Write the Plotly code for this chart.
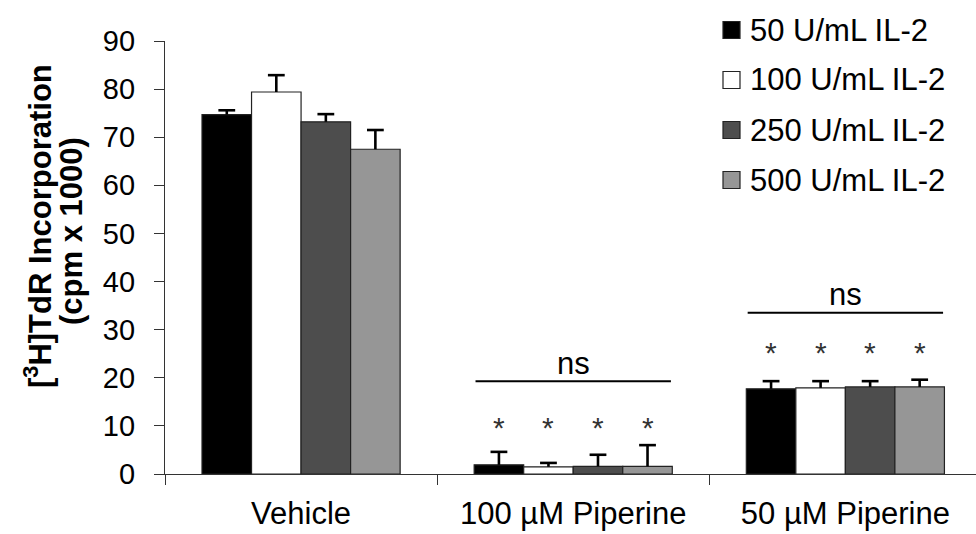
import plotly.graph_objects as go

# ---- data ----
categories = ["Vehicle", "100 µM Piperine", "50 µM Piperine"]
series_names = ["50 U/mL IL-2", "100 U/mL IL-2", "250 U/mL IL-2", "500 U/mL IL-2"]

il2_50 = [74.7, 1.9, 17.7]
il2_50_err = [0.9, 2.7, 1.6]
il2_100 = [79.4, 1.5, 17.9]
il2_100_err = [3.5, 0.8, 1.4]
il2_250 = [73.2, 1.6, 18.1]
il2_250_err = [1.6, 2.4, 1.2]
il2_500 = [67.5, 1.6, 18.1]
il2_500_err = [4.0, 4.4, 1.5]

# significance markers per group (None = no marker)
star_y = [None, 10.6, 26.0]
ns_y = [None, 19.3, 33.5]

yticks = [0, 10, 20, 30, 40, 50, 60, 70, 80, 90]

# ---- styling ----
colors = ["#000000", "#ffffff", "#4d4d4d", "#969696"]
FONT = "Liberation Sans, Arial, sans-serif"
W, H = 976, 534
L, R, T, B = 165, 0, 41, 60
PW, PH = W - L - R, H - T - B
BARGAP = 0.272
XMAX = 2.48

values = [il2_50, il2_100, il2_250, il2_500]
errors = [il2_50_err, il2_100_err, il2_250_err, il2_500_err]

n = len(series_names)
bw = (1 - BARGAP) / n
offsets = [(-(n - 1) / 2 + k) * bw for k in range(n)]

fig = go.Figure()
for k, (name, vals, errs, col) in enumerate(zip(series_names, values, errors, colors)):
    # bars with an upward-only error stem (cap drawn separately at the top)
    fig.add_trace(go.Bar(
        name=name, x=categories, y=vals,
        marker=dict(color=col, line=dict(color="#222222", width=1.2)),
        error_y=dict(type="data", array=errs, arrayminus=[0] * len(errs),
                     symmetric=False, color="#000000", thickness=2.6, width=0),
        showlegend=False,
    ))
    # error-bar caps on a hidden numeric axis aligned with the category axis
    fig.add_trace(go.Scatter(
        x=[i + offsets[k] for i in range(len(categories))],
        y=[v + e for v, e in zip(vals, errs)],
        xaxis="x2", mode="markers", hoverinfo="skip", showlegend=False,
        marker=dict(symbol="line-ew", size=12, color="#000000",
                    line=dict(color="#000000", width=2.6)),
    ))


def px_x(p):
    return (p - L) / PW


def px_y(p):
    return (H - B - p) / PH


annotations = []
shapes = []

# asterisks and "ns" bars over the piperine groups
half = (1 - BARGAP) / 2 - 0.005
for gi, (sy, ny) in enumerate(zip(star_y, ns_y)):
    if sy is not None:
        for off in offsets:
            annotations.append(dict(x=gi + off, y=sy, xref="x", yref="y", text="*",
                                    showarrow=False, yshift=-4,
                                    font=dict(family=FONT, size=30, color="#333333")))
    if ny is not None:
        shapes.append(dict(type="line", xref="x", yref="y",
                           x0=gi - half, x1=gi + half, y0=ny, y1=ny,
                           line=dict(color="#000000", width=2)))
        annotations.append(dict(x=gi, y=ny, xref="x", yref="y", text="ns",
                                showarrow=False, yshift=18,
                                font=dict(family=FONT, size=31, color="#000000")))

# legend block (top right)
row_centers = [30, 80, 130, 180]
for name, col, cy in zip(series_names, colors, row_centers):
    shapes.append(dict(type="rect", xref="paper", yref="paper",
                       x0=px_x(723), x1=px_x(740), y0=px_y(cy + 8.5), y1=px_y(cy - 8.5),
                       fillcolor=col, line=dict(color="#222222", width=1.2)))
    annotations.append(dict(x=px_x(748), y=px_y(cy), xref="paper", yref="paper",
                            xanchor="left", yanchor="middle", text=name, showarrow=False,
                            font=dict(family=FONT, size=31, color="#000000")))

# y-axis title, two rotated lines
for txt, cx, cy in [("[<sup>3</sup>H]TdR Incorporation", 38, 226),
                    ("(cpm x 1000)", 71, 231)]:
    annotations.append(dict(x=px_x(cx), y=px_y(cy), xref="paper", yref="paper",
                            xanchor="center", yanchor="middle", textangle=-90,
                            text=f"<b>{txt}</b>", showarrow=False,
                            font=dict(family=FONT, size=31, color="#000000")))

fig.update_layout(
    width=W, height=H,
    margin=dict(l=L, r=R, t=T, b=B, pad=0),
    paper_bgcolor="white", plot_bgcolor="white",
    barmode="group", bargap=BARGAP, bargroupgap=0,
    showlegend=False,
    shapes=shapes, annotations=annotations,
    font=dict(family=FONT, color="#000000"),
    xaxis=dict(
        range=[-0.5, XMAX], showgrid=False, zeroline=False,
        showline=True, linecolor="#333333", linewidth=1.2,
        ticks="outside", tickson="boundaries", ticklen=10, tickcolor="#333333",
        tickwidth=1.2, ticklabelstandoff=12,
        tickfont=dict(family=FONT, size=31, color="#000000"),
    ),
    xaxis2=dict(range=[-0.5, XMAX], overlaying="x", visible=False),
    yaxis=dict(
        range=[0, 90], showgrid=False, zeroline=False,
        showline=True, linecolor="#333333", linewidth=1.2,
        ticks="outside", ticklen=10, tickcolor="#333333", tickwidth=1.2,
        tickvals=yticks, ticklabelstandoff=13,
        tickfont=dict(family=FONT, size=29, color="#000000"),
    ),
)

fig.write_html("out.html")
